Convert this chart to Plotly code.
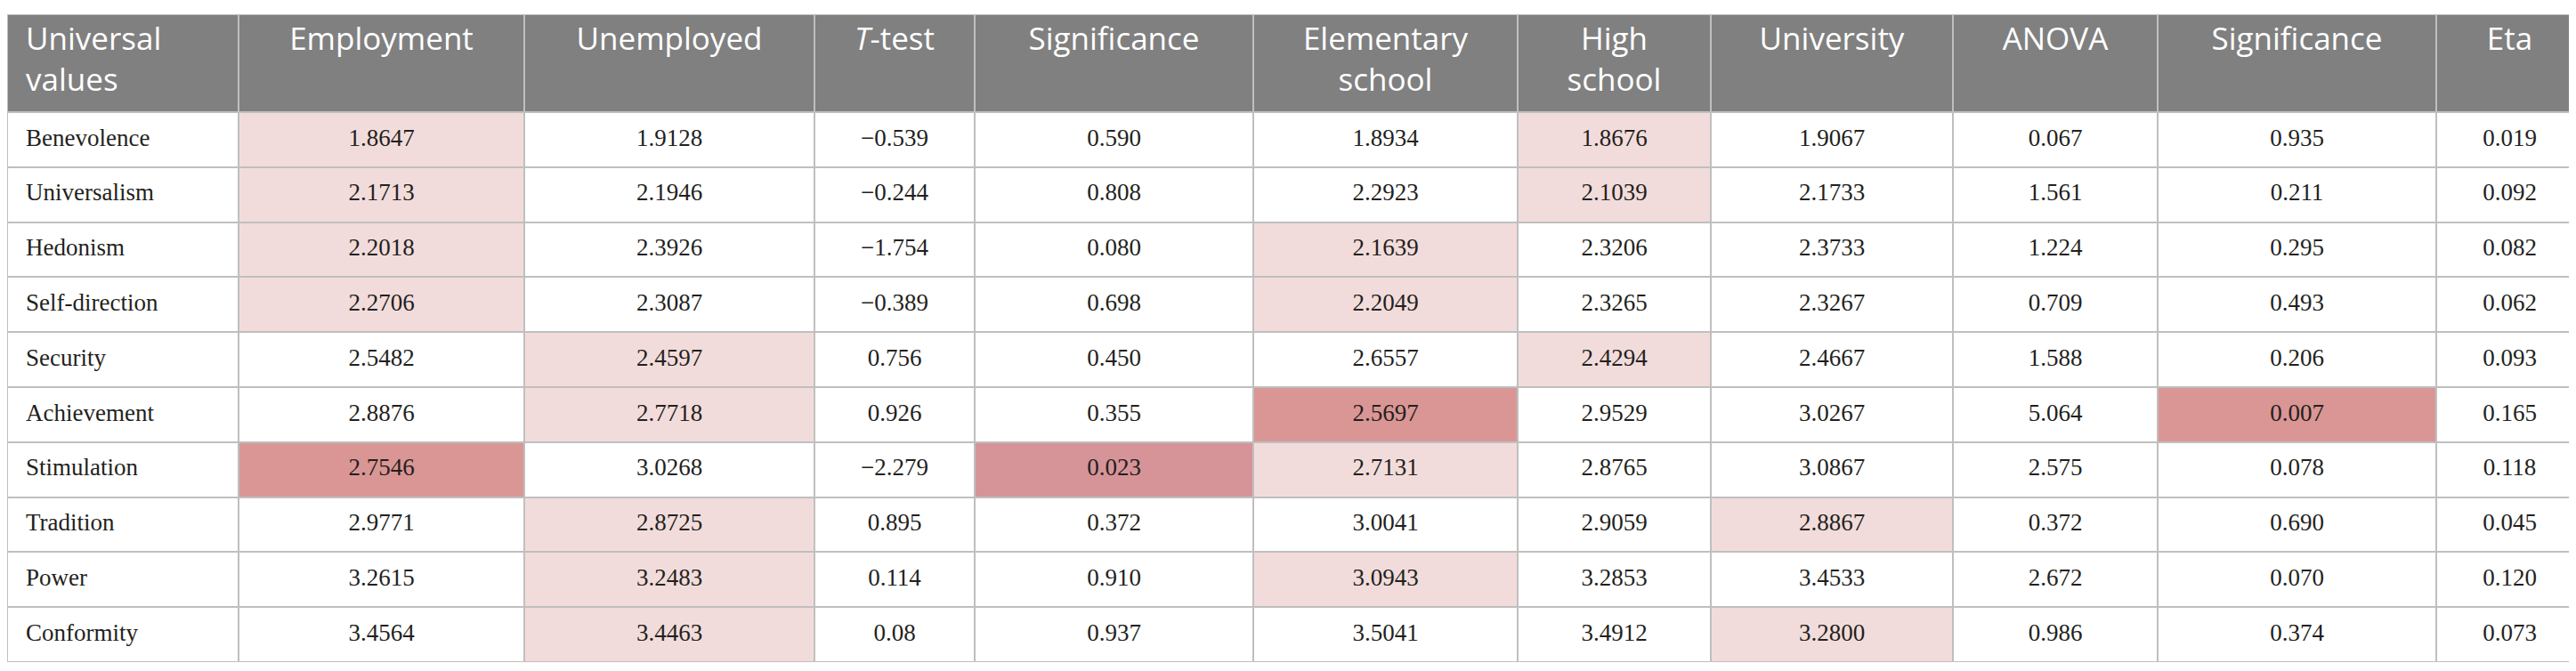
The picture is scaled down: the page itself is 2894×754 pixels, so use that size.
import plotly.graph_objects as go

# --- table content ---
headers = ["Universal<br>values", "Employment", "Unemployed", "<i>T</i>-test", "Significance",
           "Elementary<br>school", "High<br>school", "University", "ANOVA", "Significance", "Eta"]

values_names = ["Benevolence", "Universalism", "Hedonism", "Self-direction", "Security",
                "Achievement", "Stimulation", "Tradition", "Power", "Conformity"]

employment = ["1.8647", "2.1713", "2.2018", "2.2706", "2.5482", "2.8876", "2.7546", "2.9771", "3.2615", "3.4564"]
unemployed = ["1.9128", "2.1946", "2.3926", "2.3087", "2.4597", "2.7718", "3.0268", "2.8725", "3.2483", "3.4463"]
t_test = ["\u22120.539", "\u22120.244", "\u22121.754", "\u22120.389", "0.756", "0.926", "\u22122.279", "0.895", "0.114", "0.08"]
t_sig = ["0.590", "0.808", "0.080", "0.698", "0.450", "0.355", "0.023", "0.372", "0.910", "0.937"]
elementary = ["1.8934", "2.2923", "2.1639", "2.2049", "2.6557", "2.5697", "2.7131", "3.0041", "3.0943", "3.5041"]
high_school = ["1.8676", "2.1039", "2.3206", "2.3265", "2.4294", "2.9529", "2.8765", "2.9059", "3.2853", "3.4912"]
university = ["1.9067", "2.1733", "2.3733", "2.3267", "2.4667", "3.0267", "3.0867", "2.8867", "3.4533", "3.2800"]
anova = ["0.067", "1.561", "1.224", "0.709", "1.588", "5.064", "2.575", "0.372", "2.672", "0.986"]
anova_sig = ["0.935", "0.211", "0.295", "0.493", "0.206", "0.007", "0.078", "0.690", "0.070", "0.374"]
eta = ["0.019", "0.092", "0.082", "0.062", "0.093", "0.165", "0.118", "0.045", "0.120", "0.073"]

# highlight level per row (0 none, 1 light, 2 dark, 3 dark significance), one list per data column
hl_employment = [1, 1, 1, 1, 0, 0, 2, 0, 0, 0]
hl_unemployed = [0, 0, 0, 0, 1, 1, 0, 1, 1, 1]
hl_t_test = [0] * 10
hl_t_sig = [0, 0, 0, 0, 0, 0, 3, 0, 0, 0]
hl_elementary = [0, 0, 1, 1, 0, 2, 1, 0, 1, 0]
hl_high_school = [1, 1, 0, 0, 1, 0, 0, 0, 0, 0]
hl_university = [0, 0, 0, 0, 0, 0, 0, 1, 0, 1]
hl_anova = [0] * 10
hl_anova_sig = [0, 0, 0, 0, 0, 2, 0, 0, 0, 0]
hl_eta = [0] * 10

columns = [employment, unemployed, t_test, t_sig, elementary, high_school,
           university, anova, anova_sig, eta]
highlights = [hl_employment, hl_unemployed, hl_t_test, hl_t_sig, hl_elementary,
              hl_high_school, hl_university, hl_anova, hl_anova_sig, hl_eta]

# --- layout geometry (pixels) ---
W, H = 2894, 754
col_widths = [260, 321, 326, 180, 313, 297, 217, 272, 230, 313, 165]
table_top = 8
header_h = 110
row_h = 61.8
pad_left = 21

x_edges = [0]
for w in col_widths:
    x_edges.append(x_edges[-1] + w)
y_edges = [table_top, table_top + header_h]
for _ in values_names:
    y_edges.append(y_edges[-1] + row_h)
table_bottom = y_edges[-1]

x_mid = [(x_edges[i] + x_edges[i + 1]) / 2 for i in range(len(col_widths))]
y_mid = [(y_edges[i] + y_edges[i + 1]) / 2 for i in range(1, len(y_edges) - 1)]

# colour levels: 0 white, 1 light pink, 2 dark pink, 3 dark pink (t-test sig), 4 header grey
HEADER = 4
z = [[HEADER] * len(headers)]
for r in range(len(values_names)):
    z.append([0] + [hl[r] for hl in highlights])

colorscale = [
    [0.0, "#ffffff"], [0.125, "#ffffff"],
    [0.125, "#f2dcdb"], [0.375, "#f2dcdb"],
    [0.375, "#da9694"], [0.625, "#da9694"],
    [0.625, "#d69498"], [0.875, "#d69498"],
    [0.875, "#808080"], [1.0, "#808080"],
]

fig = go.Figure()
fig.add_trace(go.Heatmap(
    z=z, x=x_edges, y=y_edges,
    zmin=0, zmax=4, colorscale=colorscale, showscale=False,
    xgap=2, ygap=2, hoverinfo="skip",
))

# header text, top aligned in the header band
head_font = dict(family="Open Sans", size=35, color="white")
head_y = table_top + 14
fig.add_trace(go.Scatter(
    x=[pad_left], y=[head_y], mode="text", text=[headers[0]],
    textposition="bottom right", textfont=head_font, hoverinfo="skip",
))
fig.add_trace(go.Scatter(
    x=x_mid[1:], y=[head_y] * (len(headers) - 1), mode="text", text=headers[1:],
    textposition="bottom center", textfont=head_font, hoverinfo="skip",
))

body_font = dict(family="Liberation Serif, Times New Roman, serif", size=27, color="#231f20")

# row labels
fig.add_trace(go.Scatter(
    x=[pad_left] * len(values_names), y=y_mid, mode="text",
    text=values_names, textposition="middle right", textfont=body_font, hoverinfo="skip",
))

# body values
for c, col in enumerate(columns):
    fig.add_trace(go.Scatter(
        x=[x_mid[c + 1]] * len(col), y=y_mid, mode="text",
        text=col, textposition="middle center", textfont=body_font, hoverinfo="skip",
    ))

fig.update_layout(
    width=W, height=H,
    margin=dict(l=0, r=0, t=table_top, b=H - table_bottom),
    paper_bgcolor="white",
    plot_bgcolor="#bfbfbf",
    showlegend=False,
    hovermode=False,
)
fig.update_xaxes(range=[0, W], visible=False, fixedrange=True)
fig.update_yaxes(range=[table_bottom, table_top], visible=False, fixedrange=True)

fig.write_html("out.html")
